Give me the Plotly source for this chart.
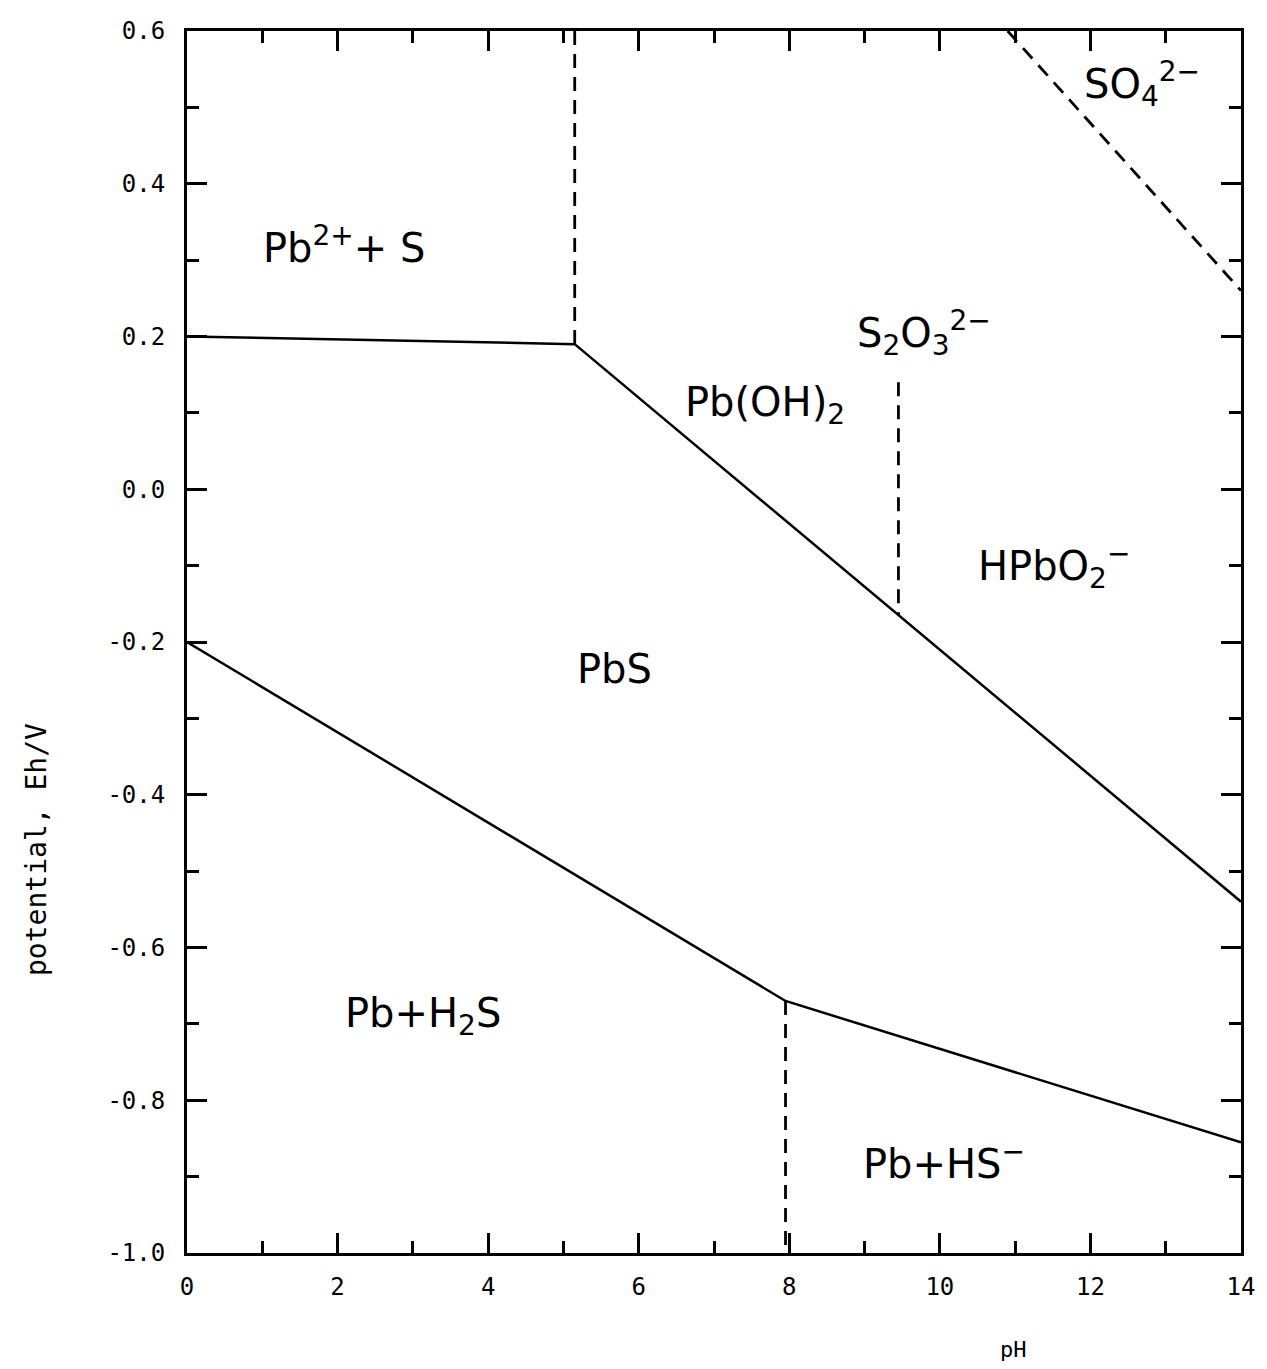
import plotly.graph_objects as go

# Boundary lines (pH, Eh/V)
upper_ph = [0.0, 5.15, 14.0]
upper_eh = [0.20, 0.19, -0.54]
lower_ph = [0.0, 7.95, 14.0]
lower_eh = [-0.20, -0.67, -0.855]

dash1_ph = [5.15, 5.15]
dash1_eh = [0.60, 0.19]
dash2_ph = [9.45, 9.45]
dash2_eh = [0.14, -0.165]
dash3_ph = [7.95, 7.95]
dash3_eh = [-0.67, -1.0]
dash4_ph = [10.9, 14.0]
dash4_eh = [0.60, 0.26]

# Region labels
label_text = ["Pb<sup>2+</sup>+ S", "PbS", "Pb(OH)<sub>2</sub>", "S<sub>2</sub>O<sub>3</sub><sup>2−</sup>",
              "HPbO<sub>2</sub><sup>−</sup>", "SO<sub>4</sub><sup>2−</sup>", "Pb+H<sub>2</sub>S", "Pb+HS<sup>−</sup>"]
label_ph = [2.08, 5.68, 7.68, 9.79, 11.52, 12.68, 3.13, 10.05]
label_eh = [0.32, -0.235, 0.11, 0.205, -0.10, 0.53, -0.69, -0.88]

xticks = [0, 2, 4, 6, 8, 10, 12, 14]
yticks = [0.6, 0.4, 0.2, 0.0, -0.2, -0.4, -0.6, -0.8, -1.0]
yticktext = ["0.6", "0.4", "0.2", "0.0", "-0.2", "-0.4", "-0.6", "-0.8", "-1.0"]

fig = go.Figure()
solid = dict(color="black", width=2.5)
dashed = dict(color="black", width=2.8, dash="14px,9px")
fig.add_trace(go.Scatter(x=upper_ph, y=upper_eh, mode="lines", line=solid))
fig.add_trace(go.Scatter(x=lower_ph, y=lower_eh, mode="lines", line=solid))
for xs, ys in [(dash1_ph, dash1_eh), (dash2_ph, dash2_eh), (dash3_ph, dash3_eh), (dash4_ph, dash4_eh)]:
    fig.add_trace(go.Scatter(x=xs, y=ys, mode="lines", line=dashed))

annotations = []
for t, x, y in zip(label_text, label_ph, label_eh):
    annotations.append(dict(text=t, x=x, y=y, xref="x", yref="y", showarrow=False,
                            xanchor="center", yanchor="middle",
                            font=dict(family="DejaVu Sans", size=40, color="black")))
annotations.append(dict(text="pH", x=0.784, y=-0.079, xref="paper", yref="paper", showarrow=False,
                        xanchor="center", yanchor="middle",
                        font=dict(family="DejaVu Sans Mono", size=22, color="black")))
annotations.append(dict(text="potential, Eh/V", x=-0.143, y=0.33, xref="paper", yref="paper",
                        showarrow=False, textangle=-90, xanchor="center", yanchor="middle",
                        font=dict(family="DejaVu Sans Mono", size=28, color="black")))

axis_common = dict(showline=True, linecolor="black", linewidth=3, mirror="ticks",
                   ticks="inside", ticklen=20, tickwidth=3, tickcolor="black",
                   showgrid=False, zeroline=False, ticklabeloverflow="allow",
                   tickfont=dict(family="DejaVu Sans Mono", size=24, color="black"))

fig.update_layout(
    width=1267, height=1369,
    margin=dict(l=187, r=14, t=31, b=116),
    plot_bgcolor="white", paper_bgcolor="white",
    showlegend=False,
    annotations=annotations,
    xaxis=dict(range=[0, 14], tickvals=xticks, ticktext=[str(v) for v in xticks],
               minor=dict(ticks="inside", dtick=1, ticklen=12, tickwidth=3, tickcolor="black"),
               ticklabelstandoff=10, **axis_common),
    yaxis=dict(range=[-1.0, 0.6], tickvals=yticks, ticktext=yticktext,
               minor=dict(ticks="inside", dtick=0.1, ticklen=12, tickwidth=3, tickcolor="black"),
               ticklabelstandoff=14, **axis_common),
)

fig.write_html("out.html")
